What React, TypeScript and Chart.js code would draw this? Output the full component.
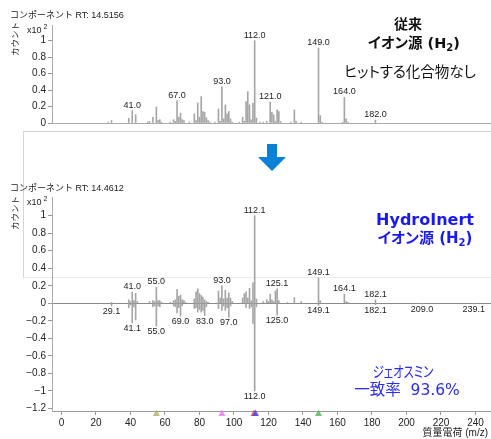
import React, { useEffect, useRef } from "react";
import { Chart, registerables } from "chart.js";
Chart.register(...registerables);

// ---- Conventional ion source (top) spectrum ----
const convMz = [27, 29, 39, 41, 43, 50, 51, 53, 55, 56, 57, 58, 63, 65, 66, 67, 68, 69, 70, 71, 74, 77, 78, 79, 80, 81, 82, 83, 84, 85, 86, 89, 91, 92, 93, 94, 95, 96, 97, 98, 99, 103, 105, 106, 107, 108, 109, 110, 111, 112, 113, 115, 117, 119, 121, 122, 123, 124, 125, 126, 127, 133, 135, 136, 139, 149, 150, 151, 163, 164, 165, 166, 182];
const convInt = [0.01, 0.03, 0.057, 0.15, 0.1, 0.01, 0.02, 0.07, 0.195, 0.03, 0.04, 0.01, 0.01, 0.04, 0.02, 0.27, 0.07, 0.12, 0.04, 0.03, 0.01, 0.11, 0.03, 0.245, 0.07, 0.32, 0.14, 0.13, 0.065, 0.03, 0.01, 0.01, 0.17, 0.02, 0.44, 0.05, 0.22, 0.11, 0.14, 0.05, 0.01, 0.01, 0.07, 0.02, 0.26, 0.38, 0.22, 0.04, 0.24, 1.0, 0.06, 0.01, 0.01, 0.02, 0.255, 0.13, 0.1, 0.02, 0.16, 0.14, 0.02, 0.01, 0.16, 0.02, 0.01, 0.91, 0.09, 0.01, 0.01, 0.31, 0.05, 0.01, 0.035];
const convLabelMz = [41, 67, 93, 112, 121, 149, 164, 182];
const convLabelText = ["41.0", "67.0", "93.0", "112.0", "121.0", "149.0", "164.0", "182.0"];

// ---- HydroInert measured (bottom, up) ----
const hiMz = [29, 39, 40, 41, 42, 43, 44, 51, 53, 54, 55, 56, 57, 58, 63, 65, 66, 67, 68, 69, 70, 71, 72, 77, 78, 79, 80, 81, 82, 83, 84, 85, 91, 92, 93, 94, 95, 96, 97, 98, 99, 105, 106, 107, 108, 109, 110, 111, 112, 113, 117, 119, 120, 121, 122, 123, 124, 125, 126, 131, 135, 139, 149, 150, 164, 165, 166, 182];
const hiInt = [0.01, 0.04, 0.02, 0.125, 0.03, 0.115, 0.02, 0.02, 0.03, 0.02, 0.185, 0.03, 0.03, 0.01, 0.01, 0.03, 0.04, 0.16, 0.08, 0.095, 0.04, 0.03, 0.01, 0.05, 0.13, 0.165, 0.11, 0.09, 0.07, 0.04, 0.02, 0.01, 0.14, 0.06, 0.2, 0.05, 0.15, 0.06, 0.12, 0.06, 0.02, 0.06, 0.11, 0.13, 0.06, 0.17, 0.03, 0.235, 1.0, 0.05, 0.02, 0.04, 0.02, 0.105, 0.04, 0.02, 0.14, 0.165, 0.03, 0.01, 0.065, 0.02, 0.29, 0.03, 0.105, 0.02, 0.01, 0.04];
const hiLabelMz = [41, 55, 93, 112, 125, 149, 164, 182];
const hiLabelText = ["41.0", "55.0", "93.0", "112.1", "125.1", "149.1", "164.1", "182.1"];

// ---- Library spectrum (bottom, down) ----
const libMz = [29, 39, 40, 41, 42, 43, 53, 54, 55, 56, 57, 65, 66, 67, 68, 69, 70, 77, 78, 79, 80, 81, 82, 83, 84, 91, 93, 94, 95, 96, 97, 98, 107, 109, 110, 111, 112, 113, 125, 149, 182, 209, 239];
const libInt = [-0.03, -0.05, -0.02, -0.225, -0.04, -0.19, -0.04, -0.03, -0.26, -0.03, -0.04, -0.03, -0.04, -0.11, -0.05, -0.145, -0.03, -0.06, -0.05, -0.1, -0.07, -0.1, -0.08, -0.14, -0.04, -0.06, -0.08, -0.03, -0.08, -0.05, -0.16, -0.03, -0.05, -0.06, -0.04, -0.23, -1.0, -0.04, -0.135, -0.025, -0.015, -0.005, -0.005];
const libLabelMz = [29, 41, 55, 69, 83, 97, 112, 125, 149, 182, 209, 239];
const libLabelText = ["29.1", "41.1", "55.0", "69.0", "83.0", "97.0", "112.0", "125.0", "149.1", "182.1", "209.0", "239.1"];

// ---- Axis ticks & markers ----
const xTicks = [0, 20, 40, 60, 80, 100, 120, 140, 160, 180, 200, 220, 240];
const topYTicks = [0, 0.2, 0.4, 0.6, 0.8, 1];
const bottomYTicks = [-1.2, -1, -0.8, -0.6, -0.4, -0.2, 0, 0.2, 0.4, 0.6, 0.8, 1];
const markerMz = [55, 93, 111.6, 112.5, 149];
const markerColors = ["#b4b46c", "#f07af0", "#e84848", "#4a4af0", "#5cb85c"];

const TICK_FONT = "'Liberation Sans Narrow', 'Liberation Sans', Arial, sans-serif";
const LABEL_FONT = "9px 'Liberation Sans', Arial, sans-serif";
const BAR_COLOR = "#a6a6a6";

function fmt(v: number): string {
  const r = Math.round(v * 10) / 10;
  const s = (r === 0 ? 0 : r).toString();
  return s.replace("-", "\u2212");
}

function lookup(mz: number[], vals: number[], m: number): number {
  const i = mz.indexOf(m);
  return i >= 0 ? vals[i] : 0;
}

function labelPlugin(id: string, groups: { mz: number[]; text: string[]; srcMz: number[]; srcVal: number[]; below: boolean }[]) {
  return {
    id,
    afterDatasetsDraw(chart: any) {
      const ctx = chart.ctx;
      const xs = chart.scales.x;
      const ys = chart.scales.y;
      ctx.save();
      ctx.font = LABEL_FONT;
      ctx.fillStyle = "#222";
      ctx.textAlign = "center";
      for (const g of groups) {
        g.mz.forEach((m, i) => {
          const x = xs.getPixelForValue(m);
          const y = ys.getPixelForValue(lookup(g.srcMz, g.srcVal, m));
          if (g.below) {
            ctx.textBaseline = "top";
            ctx.fillText(g.text[i], x, y + 1);
          } else {
            ctx.textBaseline = "bottom";
            ctx.fillText(g.text[i], x, y - 1);
          }
        });
      }
      ctx.restore();
    },
  };
}

const markerPlugin = {
  id: "markers",
  afterDraw(chart: any) {
    const ctx = chart.ctx;
    const xs = chart.scales.x;
    const bottom = chart.chartArea.bottom;
    ctx.save();
    markerMz.forEach((m, i) => {
      const x = xs.getPixelForValue(m);
      ctx.beginPath();
      ctx.moveTo(x, bottom - 1.5);
      ctx.lineTo(x + 3.5, bottom + 5);
      ctx.lineTo(x - 3.5, bottom + 5);
      ctx.closePath();
      ctx.globalAlpha = 0.85;
      ctx.fillStyle = markerColors[i];
      ctx.fill();
    });
    ctx.restore();
  },
};

const X_MIN = -5.5;
const X_MAX = 249;

function TopChart() {
  const ref = useRef<HTMLCanvasElement>(null);
  useEffect(() => {
    if (!ref.current) return;
    const chart = new Chart(ref.current, {
      type: "bar",
      data: {
        datasets: [
          {
            data: convMz.map((m, i) => ({ x: m, y: convInt[i] })),
            backgroundColor: BAR_COLOR,
            borderWidth: 0,
            barThickness: 1,
            grouped: false,
          } as any,
        ],
      },
      options: {
        animation: false,
        responsive: false,
        maintainAspectRatio: false,
        events: [],
        layout: { padding: { top: 25, left: 0, right: 0, bottom: 0 } },
        plugins: { legend: { display: false }, tooltip: { enabled: false } },
        scales: {
          x: {
            type: "linear",
            offset: false,
            min: X_MIN,
            max: X_MAX,
            afterFit: (s: any) => { s.height = 2; },
            ticks: { display: false },
            grid: { display: false, offset: false },
            border: { display: true, color: "#aaa" },
          },
          y: {
            type: "linear",
            min: 0,
            max: 1.19,
            afterFit: (s: any) => { s.width = 52; },
            afterBuildTicks: (s: any) => { s.ticks = topYTicks.map((v) => ({ value: v })); },
            ticks: { font: { family: TICK_FONT, size: 10 }, color: "#222", padding: 2, callback: (v: any) => fmt(Number(v)) },
            grid: { drawOnChartArea: false, tickLength: 4, color: "#999", tickColor: "#999" },
            border: { color: "#aaa" },
          },
        },
      } as any,
      plugins: [
        labelPlugin("topLabels", [{ mz: convLabelMz, text: convLabelText, srcMz: convMz, srcVal: convInt, below: false }]) as any,
      ],
    });
    return () => chart.destroy();
  }, []);
  return <canvas ref={ref} width={491} height={131} style={{ position: "absolute", left: 0, top: 0, width: 491, height: 131 }} />;
}

function BottomChart() {
  const ref = useRef<HTMLCanvasElement>(null);
  useEffect(() => {
    if (!ref.current) return;
    const chart = new Chart(ref.current, {
      type: "bar",
      data: {
        datasets: [
          {
            data: hiMz.map((m, i) => ({ x: m, y: hiInt[i] })),
            backgroundColor: BAR_COLOR,
            borderWidth: 0,
            barThickness: 1,
            grouped: false,
          } as any,
          {
            data: libMz.map((m, i) => ({ x: m, y: libInt[i] })),
            backgroundColor: BAR_COLOR,
            borderWidth: 0,
            barThickness: 1,
            grouped: false,
          } as any,
        ],
      },
      options: {
        animation: false,
        responsive: false,
        maintainAspectRatio: false,
        events: [],
        layout: { padding: { top: 12, left: 0, right: 0, bottom: 0 } },
        plugins: { legend: { display: false }, tooltip: { enabled: false } },
        scales: {
          x: {
            type: "linear",
            offset: false,
            min: X_MIN,
            max: X_MAX,
            afterFit: (s: any) => { s.height = 28; },
            afterBuildTicks: (s: any) => { s.ticks = xTicks.map((v) => ({ value: v })); },
            ticks: { font: { family: TICK_FONT, size: 10 }, color: "#222", padding: 2, maxRotation: 0, autoSkip: false, callback: (v: any) => String(v) },
            grid: { drawOnChartArea: false, offset: false, tickLength: 4, color: "#999", tickColor: "#999" },
            border: { color: "#999" },
          },
          y: {
            type: "linear",
            min: -1.229,
            max: 1.213,
            afterFit: (s: any) => { s.width = 52; },
            afterBuildTicks: (s: any) => { s.ticks = bottomYTicks.map((v) => ({ value: v })); },
            ticks: { font: { family: TICK_FONT, size: 10 }, color: "#222", padding: 2, callback: (v: any) => fmt(Number(v)) },
            grid: {
              drawOnChartArea: true,
              tickLength: 4,
              color: (c: any) => (c.tick && Math.abs(c.tick.value) < 1e-9 ? "#8a8a8a" : "rgba(0,0,0,0)"),
              tickColor: "#999",
            },
            border: { color: "#aaa" },
          },
        },
      } as any,
      plugins: [
        labelPlugin("bottomLabels", [
          { mz: hiLabelMz, text: hiLabelText, srcMz: hiMz, srcVal: hiInt, below: false },
          { mz: libLabelMz, text: libLabelText, srcMz: libMz, srcVal: libInt, below: true },
        ]) as any,
        markerPlugin as any,
      ],
    });
    return () => chart.destroy();
  }, []);
  return <canvas ref={ref} width={491} height={254} style={{ position: "absolute", left: 0, top: 185, width: 491, height: 254 }} />;
}

const SMALL = "'Liberation Sans', 'Noto Sans CJK JP', sans-serif";
const BIG = "'DejaVu Sans', 'Noto Sans CJK JP', sans-serif";

function Txt(props: { x: number; y: number; align?: "left" | "center" | "right"; sx?: number; style?: any; children: any }) {
  const tx = props.align === "left" ? "0" : props.align === "right" ? "-100%" : "-50%";
  const sc = props.sx ? ` scaleX(${props.sx})` : "";
  return (
    <div
      style={{
        position: "absolute",
        left: props.x,
        top: props.y,
        transform: `translate(${tx}, -50%)${sc}`,
        whiteSpace: "pre",
        lineHeight: 1,
        ...props.style,
      }}
    >
      {props.children}
    </div>
  );
}

function AxisDecor({ titleY, text, countY, expY }: { titleY: number; text: string; countY: number; expY: number }) {
  return (
    <>
      <Txt x={10} y={titleY} align="left" style={{ fontFamily: SMALL, fontSize: 9, color: "#222" }}>{text}</Txt>
      <div
        style={{
          position: "absolute",
          left: 15,
          top: countY,
          transform: "translate(-50%, -50%) rotate(-90deg)",
          fontFamily: SMALL,
          fontSize: 8.5,
          lineHeight: 1,
          whiteSpace: "pre",
          color: "#222",
        }}
      >
        カウント
      </div>
      <Txt x={27} y={expY} align="left" style={{ fontFamily: SMALL, fontSize: 9, color: "#222" }}>
        x10<span style={{ fontSize: 7, position: "relative", top: -4, marginLeft: 2 }}>2</span>
      </Txt>
    </>
  );
}

export default function App() {
  const jp = { fontFeatureSettings: '"palt"' };
  return (
    <div style={{ position: "absolute", left: 0, top: 0, width: 491, height: 439, overflow: "hidden", background: "#fff" }}>
      <TopChart />
      <AxisDecor titleY={15} text="コンポーネント RT: 14.5156" countY={39} expY={30} />
      <Txt x={408} y={24} style={{ fontFamily: BIG, fontSize: 14, fontWeight: "bold", color: "#111", ...jp }}>従来</Txt>
      <Txt x={414} y={44} style={{ fontFamily: BIG, fontSize: 14.5, fontWeight: "bold", color: "#111", ...jp }}>
        イオン源 (H<sub style={{ fontSize: 10, verticalAlign: "-3px" }}>2</sub>)
      </Txt>
      <Txt x={410} y={72} style={{ fontFamily: BIG, fontSize: 14.5, color: "#111", ...jp }}>ヒットする化合物なし</Txt>

      <div
        style={{
          position: "absolute",
          left: 23,
          top: 131,
          width: 480,
          height: 145,
          background: "#fff",
          borderTop: "1px solid #d4d4d4",
          borderLeft: "1px solid #d4d4d4",
          borderBottom: "1px solid #ececec",
        }}
      />
      <svg style={{ position: "absolute", left: 258, top: 144 }} width={28} height={27} viewBox="0 0 28 27">
        <polygon points="9,0 19,0 19,13 28,13 14,27 0,13 9,13" fill="#0a80d6" />
      </svg>

      <BottomChart />
      <AxisDecor titleY={188} text="コンポーネント RT: 14.4612" countY={213} expY={202} />
      <Txt x={425} y={220} style={{ fontFamily: BIG, fontSize: 16, fontWeight: "bold", color: "#1a1af0", ...jp }}>HydroInert</Txt>
      <Txt x={425} y={239} style={{ fontFamily: BIG, fontSize: 15, fontWeight: "bold", color: "#1a1af0", ...jp }}>
        イオン源 (H<sub style={{ fontSize: 10, verticalAlign: "-3px" }}>2</sub>)
      </Txt>
      <Txt x={403} y={372} sx={0.76} style={{ fontFamily: BIG, fontSize: 15, color: "#2a2af5", ...jp }}>ジェオスミン</Txt>
      <Txt x={407} y={391} style={{ fontFamily: BIG, fontSize: 15.5, color: "#2a2af5", ...jp }}>一致率  93.6%</Txt>
      <Txt x={488} y={433} align="right" style={{ fontFamily: SMALL, fontSize: 10, color: "#222" }}>質量電荷 (m/z)</Txt>
    </div>
  );
}
